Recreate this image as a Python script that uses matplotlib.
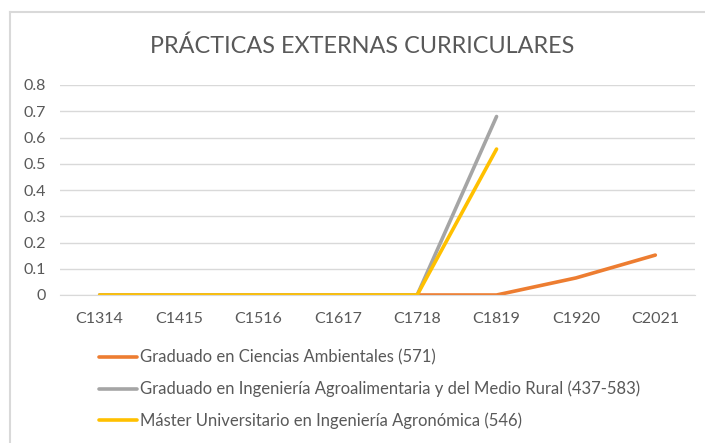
import numpy as np
import matplotlib
matplotlib.use("Agg")
import matplotlib.pyplot as plt
from matplotlib.lines import Line2D

# ── Datos ─────────────────────────────────────────────────────────────
cursos = ["C1314", "C1415", "C1516", "C1617", "C1718", "C1819", "C1920", "C2021"]
ciencias_ambientales = [0, 0, 0, 0, 0, 0, 0.065, 0.152]
agroalimentaria = [0, 0, 0, 0, 0, 0.68, np.nan, np.nan]
master_agronomica = [0, 0, 0, 0, 0, 0.556, np.nan, np.nan]
etiquetas = [
    "Graduado en Ciencias Ambientales (571)",
    "Graduado en Ingeniería Agroalimentaria y del Medio Rural (437-583)",
    "Máster Universitario en Ingeniería Agronómica (546)",
]
yticks = [0, 0.1, 0.2, 0.3, 0.4, 0.5, 0.6, 0.7, 0.8]

# ── Estilo ────────────────────────────────────────────────────────────
plt.rcParams["font.family"] = ["Lato", "DejaVu Sans"]
GRIS_TEXTO = "#595959"
COLORES = ["#ED7D31", "#A5A5A5", "#FFC000"]
W, H = 705, 443

fig = plt.figure(figsize=(W / 100, H / 100), dpi=100)
fig.patch.set_facecolor("white")

# marco del gráfico (solo arriba e izquierda visibles)
fig.add_artist(Line2D([10 / W, 1], [1 - 12 / H] * 2, color="#d9d9d9", lw=1.5,
                      transform=fig.transFigure))
fig.add_artist(Line2D([10 / W] * 2, [0, 1 - 12 / H], color="#d9d9d9", lw=1.5,
                      transform=fig.transFigure))

ax = fig.add_axes([60 / W, 1 - 295 / H, 635 / W, 210 / H])
x = np.arange(len(cursos))
series = [ciencias_ambientales, agroalimentaria, master_agronomica]
for valores, color, etiqueta in zip(series, COLORES, etiquetas):
    ax.plot(x, valores, color=color, lw=2.6, label=etiqueta,
            solid_capstyle="round", solid_joinstyle="round")

ax.set_xlim(-0.5, len(cursos) - 0.5)
ax.set_ylim(0, 0.8)
ax.set_yticks(yticks)
ax.set_yticklabels([f"{v:g}" for v in yticks])
ax.set_xticks(x)
ax.set_xticklabels(cursos)
ax.grid(axis="y", color="#d9d9d9", lw=1)
ax.set_axisbelow(True)
for lado in ["top", "right", "left"]:
    ax.spines[lado].set_visible(False)
ax.spines["bottom"].set_color("#d9d9d9")
ax.tick_params(length=0, labelsize=11.5, colors=GRIS_TEXTO)
ax.tick_params(axis="x", pad=12)
ax.tick_params(axis="y", pad=10)

fig.text(362 / W, 1 - 46 / H, "PRÁCTICAS EXTERNAS CURRICULARES",
         ha="center", va="center", fontsize=16.8, color=GRIS_TEXTO)

leyenda = fig.legend(loc="upper left", bbox_to_anchor=(92 / W, 1 - 343 / H),
                     frameon=False, fontsize=12, labelcolor=GRIS_TEXTO,
                     handlelength=2.3, handletextpad=0.15, labelspacing=0.9,
                     borderaxespad=0)

fig.savefig("out.png", dpi=100)
